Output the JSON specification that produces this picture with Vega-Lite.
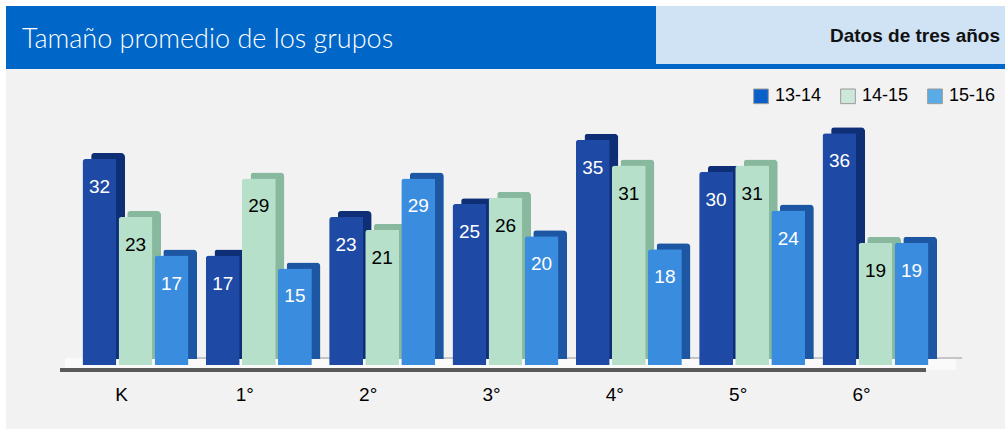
{
  "$schema": "https://vega.github.io/schema/vega-lite/v6.json",
  "background": "white",
  "padding": {"left": 6, "top": 6, "right": 0, "bottom": 0},
  "config": {"view": {"stroke": null}, "font": "Liberation Sans"},
  "spacing": 0,
  "vconcat": [
    {
      "spacing": 0,
      "bounds": "flush",
      "hconcat": [
        {
          "width": 650,
          "height": 63,
          "view": {"fill": "#0066C8", "stroke": null},
          "data": {"values": [{"t": "Tamaño promedio de los grupos"}]},
          "mark": {"type": "text", "align": "left", "baseline": "middle", "dx": 16, "dy": 2, "font": "Lato", "fontWeight": 300, "fontSize": 27, "color": "white"},
          "encoding": {
            "x": {"datum": 0, "type": "quantitative", "scale": {"domain": [0, 1]}, "axis": null},
            "text": {"field": "t"}
          }
        },
        {
          "width": 349,
          "height": 63,
          "view": {"fill": "#CFE3F5", "stroke": null},
          "data": {"values": [{"t": "Datos de tres años"}]},
          "layer": [
            {
              "mark": {"type": "rule", "color": "#0066C8", "strokeWidth": 5, "yOffset": -2.5},
              "encoding": {
                "y": {"datum": 0, "type": "quantitative", "scale": {"domain": [0, 1]}, "axis": null}
              }
            },
            {
              "mark": {"type": "text", "align": "right", "baseline": "middle", "dx": -5, "dy": -2, "fontWeight": "bold", "fontSize": 19, "color": "#111"},
              "encoding": {
                "x": {"datum": 1, "type": "quantitative", "scale": {"domain": [0, 1]}, "axis": null},
                "text": {"field": "t"}
              }
            }
          ]
        }
      ]
    },
    {
      "width": 999,
      "height": 360,
      "view": {"fill": "#F2F2F2", "stroke": null},
      "data": {"values": [
        {"g": "K", "s": "13-14", "v": 32}, {"g": "K", "s": "14-15", "v": 23}, {"g": "K", "s": "15-16", "v": 17},
        {"g": "1°", "s": "13-14", "v": 17}, {"g": "1°", "s": "14-15", "v": 29}, {"g": "1°", "s": "15-16", "v": 15},
        {"g": "2°", "s": "13-14", "v": 23}, {"g": "2°", "s": "14-15", "v": 21}, {"g": "2°", "s": "15-16", "v": 29},
        {"g": "3°", "s": "13-14", "v": 25}, {"g": "3°", "s": "14-15", "v": 26}, {"g": "3°", "s": "15-16", "v": 20},
        {"g": "4°", "s": "13-14", "v": 35}, {"g": "4°", "s": "14-15", "v": 31}, {"g": "4°", "s": "15-16", "v": 18},
        {"g": "5°", "s": "13-14", "v": 30}, {"g": "5°", "s": "14-15", "v": 31}, {"g": "5°", "s": "15-16", "v": 24},
        {"g": "6°", "s": "13-14", "v": 36}, {"g": "6°", "s": "14-15", "v": 19}, {"g": "6°", "s": "15-16", "v": 19}
      ]},
      "encoding": {
        "x": {"field": "g", "type": "nominal",
              "scale": {"domain": ["K", "1°", "2°", "3°", "4°", "5°", "6°"], "paddingInner": 0, "paddingOuter": 0.55},
              "axis": {"title": null, "orient": "bottom", "offset": -64, "domain": false, "ticks": false, "labelAngle": 0,
                       "labelFontSize": 19, "labelColor": "#000", "labelPadding": 20, "labelOffset": -14}}
      },
      "layer": [
        {
          "mark": {"type": "rule", "color": "#FAFAFA", "strokeWidth": 12, "xOffset": -70, "x2Offset": 80, "yOffset": -1},
          "encoding": {
            "x": {"datum": "K", "type": "nominal"},
            "x2": {"datum": "6°"},
            "y": {"datum": 0, "type": "quantitative", "scale": {"domain": [-9.95, 46], "nice": false, "zero": false}, "axis": null}
          }
        },
        {
          "mark": {"type": "rule", "color": "#C4C4C4", "strokeWidth": 1.5, "xOffset": -52, "x2Offset": 86, "yOffset": -7},
          "encoding": {
            "x": {"datum": "K", "type": "nominal"},
            "x2": {"datum": "6°"},
            "y": {"datum": 0, "type": "quantitative", "scale": {"domain": [-9.95, 46], "nice": false, "zero": false}, "axis": null}
          }
        },
        {
          "mark": {"type": "rule", "color": "#5a5a5a", "strokeWidth": 3, "xOffset": -75, "x2Offset": 50, "yOffset": 5},
          "encoding": {
            "x": {"datum": "K", "type": "nominal"},
            "x2": {"datum": "6°"},
            "y": {"datum": 0, "type": "quantitative", "scale": {"domain": [-9.95, 46], "nice": false, "zero": false}, "axis": null}
          }
        },
        {
          "mark": {"type": "bar", "cornerRadiusTopLeft": 3, "cornerRadiusTopRight": 4},
          "encoding": {
            "xOffset": {"field": "s", "type": "nominal", "scale": {"paddingInner": 0.06, "paddingOuter": 0.24, "align": 1}},
            "y": {"field": "v", "type": "quantitative", "scale": {"domain": [-10.88, 45.07], "nice": false, "zero": false}, "axis": null},
            "fill": {"field": "s", "type": "nominal", "scale": {"range": ["#0E2E76", "#88B89E", "#1D57A4"]}, "legend": null}
          }
        },
        {
          "mark": {"type": "bar", "cornerRadiusTopLeft": 3},
          "encoding": {
            "xOffset": {"field": "s", "type": "nominal", "scale": {"paddingInner": 0.06, "paddingOuter": 0.24, "align": 0.5}},
            "y": {"field": "v", "type": "quantitative", "scale": {"domain": [-9.95, 46], "nice": false, "zero": false}, "axis": null},
            "fill": {"field": "s", "type": "nominal", "scale": {"range": ["#1E4AA5", "#B6E0CA", "#3A8CDF"]}, "legend": null}
          }
        },
        {
          "mark": {"type": "text", "dy": 28, "fontSize": 19, "baseline": "middle", "align": "center"},
          "encoding": {
            "xOffset": {"field": "s", "type": "nominal", "scale": {"type": "band", "paddingInner": 0.06, "paddingOuter": 0.24, "align": 0.5}},
            "y": {"field": "v", "type": "quantitative", "scale": {"domain": [-9.95, 46], "nice": false, "zero": false}, "axis": null},
            "text": {"field": "v"},
            "color": {"field": "s", "type": "nominal", "scale": {"range": ["#FFFFFF", "#000000", "#FFFFFF"]}, "legend": null}
          }
        },
        {
          "mark": {"type": "square", "opacity": 0},
          "encoding": {
            "xOffset": {"field": "s", "type": "nominal", "scale": {"paddingInner": 0.06, "paddingOuter": 0.24, "align": 0.5}},
            "y": {"field": "v", "type": "quantitative", "scale": {"domain": [-9.95, 46], "nice": false, "zero": false}, "axis": null},
            "fill": {"field": "s", "type": "nominal", "scale": {"range": ["#0A5FC8", "#CDE8DA", "#5AACE6"]},
              "legend": {"orient": "none", "legendX": 746, "legendY": 18, "direction": "horizontal", "title": null,
                         "symbolType": "square", "symbolSize": 215, "symbolOpacity": 1, "symbolStrokeColor": "#999", "symbolStrokeWidth": 1,
                         "labelFontSize": 18, "labelColor": "#000", "columnPadding": 16, "labelOffset": 5}}
          }
        }
      ],
      "resolve": {"scale": {"fill": "independent", "color": "independent", "y": "independent", "xOffset": "independent"}}
    }
  ]
}
